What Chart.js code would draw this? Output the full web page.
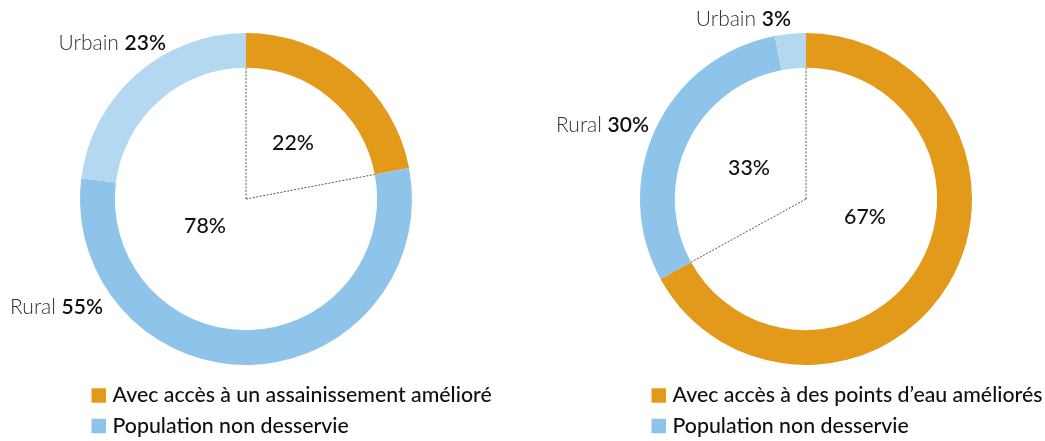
<!DOCTYPE html>
<html>
<head>
<meta charset="utf-8">
<script src="https://cdn.jsdelivr.net/npm/chart.js@4.4.1/dist/chart.umd.min.js"></script>
<style>
  html, body { margin: 0; padding: 0; background: #fff; }
  #wrap { position: relative; width: 1045px; height: 441px; }
  .box { position: absolute; top: 0; height: 441px; }
  #left { left: 0; width: 520px; }
  #right { left: 520px; width: 525px; }
</style>
</head>
<body>
<div id="wrap">
  <div class="box" id="left"><canvas id="sanitationChart" width="520" height="441"></canvas></div>
  <div class="box" id="right"><canvas id="waterChart" width="525" height="441"></canvas></div>
</div>
<script>
// segments: served, rural unserved, urban unserved
const segmentNames = ['Avec accès', 'Rural', 'Urbain'];
const sanitationValues = [22, 55, 23];
const waterValues = [67, 30, 3];
const sanitationLegend = ['Avec accès à un assainissement amélioré', 'Population non desservie'];
const waterLegend = ['Avec accès à des points d’eau améliorés', 'Population non desservie'];

const ORANGE = '#E39A1B';
const BLUE = '#8EC4EA';
const LIGHT_BLUE = '#B5D8F1';
const FONT = 'Lato, "Open Sans", sans-serif';

// draws the dotted radii, the % inside, the outer labels and the legend
const annotations = {
  id: 'annotations',
  afterDatasetsDraw(chart, args, opts) {
    const ctx = chart.ctx;
    const arcs = chart.getDatasetMeta(0).data;
    const values = chart.data.datasets[0].data;
    const first = arcs[0];
    const cx = first.x, cy = first.y, r = first.innerRadius;

    ctx.save();
    // dotted lines from centre to the inner edge
    ctx.strokeStyle = '#555';
    ctx.lineWidth = 1;
    ctx.setLineDash([2, 1.5]);
    [first.startAngle, first.endAngle].forEach(a => {
      ctx.beginPath();
      ctx.moveTo(cx, cy);
      ctx.lineTo(cx + r * Math.cos(a), cy + r * Math.sin(a));
      ctx.stroke();
    });
    ctx.setLineDash([]);

    // inner percentages
    const served = values[0];
    const unserved = values[1] + values[2];
    ctx.fillStyle = '#111';
    ctx.font = '500 21.3px ' + FONT;
    ctx.textAlign = 'center';
    ctx.textBaseline = 'middle';
    ctx.fillText(served + '%', cx + opts.servedPos[0], cy + opts.servedPos[1]);
    ctx.fillText(unserved + '%', cx + opts.unservedPos[0], cy + opts.unservedPos[1]);

    // outer labels (Rural / Urbain)
    [1, 2].forEach((i, k) => {
      const pos = opts.outerPos[k];
      const x = cx + pos[0], y = cy + pos[1];
      const val = values[i] + '%';
      ctx.font = '600 21px ' + FONT;
      const wVal = ctx.measureText(val).width;
      ctx.textAlign = 'right';
      ctx.fillStyle = '#111';
      ctx.fillText(val, x, y);
      ctx.font = '300 21px ' + FONT;
      ctx.fillStyle = '#333';
      ctx.fillText(chart.data.labels[i] + ' ', x - wVal, y);
    });

    // legend
    const colors = [ORANGE, BLUE];
    opts.legend.forEach((txt, i) => {
      const lx = opts.legendX, ly = opts.legendY + i * 30.5;
      ctx.fillStyle = colors[i];
      ctx.fillRect(lx, ly - 7.25, 14.5, 14.5);
      ctx.fillStyle = '#111';
      ctx.font = '500 21.3px ' + FONT;
      ctx.textAlign = 'left';
      ctx.fillText(txt, lx + 21, ly);
    });
    ctx.restore();
  }
};

function makeDoughnut(id, values, padding, extra) {
  return new Chart(document.getElementById(id), {
    type: 'doughnut',
    data: {
      labels: segmentNames,
      datasets: [{
        data: values,
        backgroundColor: [ORANGE, BLUE, LIGHT_BLUE],
        borderWidth: 0
      }]
    },
    options: {
      responsive: false,
      animation: false,
      cutout: '79%',
      layout: { padding: padding },
      plugins: {
        legend: { display: false },
        tooltip: { enabled: false },
        annotations: extra
      }
    },
    plugins: [annotations]
  });
}

makeDoughnut('sanitationChart', sanitationValues,
  { left: 80, right: 108, top: 33, bottom: 76 },
  {
    servedPos: [47, -56],
    unservedPos: [-41, 27],
    outerPos: [[-143, 108.5], [-80, -156]],
    legend: sanitationLegend,
    legendX: 91.5,
    legendY: 395.5
  });

makeDoughnut('waterChart', waterValues,
  { left: 120, right: 73, top: 33, bottom: 76 },
  {
    servedPos: [59, 18],
    unservedPos: [-57, -31],
    outerPos: [[-157, -73.5], [-15, -180]],
    legend: waterLegend,
    legendX: 131.5,
    legendY: 395.5
  });
</script>
</body>
</html>
